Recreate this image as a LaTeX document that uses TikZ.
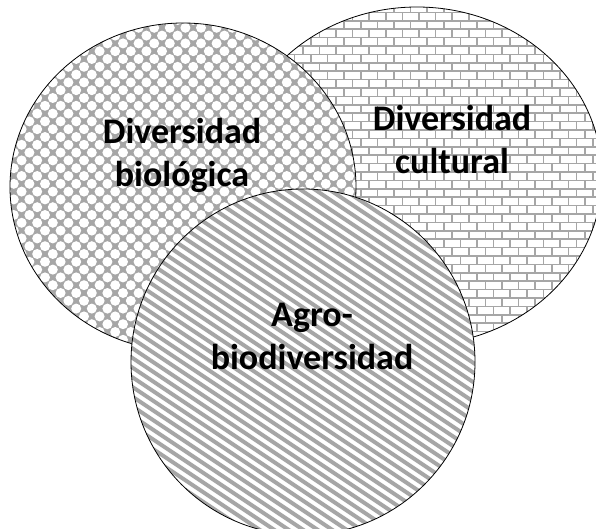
\documentclass[tikz,border=0pt]{standalone}
\usepackage{fontspec}
\setmainfont{Carlito}
\usetikzlibrary{shapes.geometric}
\definecolor{patgray}{HTML}{A6A6A6}

\tikzset{
  venn/.style={ellipse, draw=black, line width=0.8pt, inner sep=0pt, outer sep=0pt},
  brickline/.style={draw=patgray, line width=1.6pt},
  stripe/.style={draw=patgray, line width=4pt},
  lbl/.style={font=\fontsize{36}{43}\selectfont\bfseries, align=center, inner sep=0pt, text=black}
}

\begin{document}
\begin{tikzpicture}[x=1pt,y=1pt]
\useasboundingbox (0,0) rectangle (596,-529);

% ---- Diversidad cultural: brick pattern
\begin{scope}
  \clip (417,-176) ellipse [x radius=185, y radius=169];
  \fill[white] (417,-176) ellipse [x radius=185, y radius=169];
  \foreach \r [evaluate=\r as \yy using {-4-8.4*\r}, evaluate=\r as \off using {mod(\r,2)*8.3}] in {0,...,41} {
    \draw[brickline] (225,\yy) -- (610,\yy);
    \foreach \c in {0,...,23} {
      \draw[brickline] ({228+16.6*\c+\off},\yy) -- ++(0,-8.4);
    }
  }
\end{scope}
\node[venn, minimum width=370pt, minimum height=338pt] (cult) at (417,-176) {};

% ---- Diversidad biologica: dot pattern
\begin{scope}
  \clip (183,-187) ellipse [x radius=173, y radius=164];
  \fill[patgray] (183,-187) ellipse [x radius=173, y radius=164];
  \fill[white] \foreach \i in {0,...,23} { \foreach \j in {0,...,22} {
      ({6+15.6*\i},{-20-15.6*\j}) circle [radius=5.0]
      ({13.8+15.6*\i},{-27.8-15.6*\j}) circle [radius=5.0] } };
\end{scope}
\node[venn, minimum width=346pt, minimum height=328pt] (bio) at (183,-187) {};

% ---- Agro-biodiversidad: diagonal stripes
\begin{scope}
  \clip (303,-362) ellipse [x radius=172, y radius=173];
  \fill[white] (303,-362) ellipse [x radius=172, y radius=173];
  \foreach \a in {-410,-395.5,...,480} {
    \draw[stripe] (\a,-180) -- ++(555,-370);
  }
\end{scope}
\node[venn, minimum width=344pt, minimum height=346pt] (agro) at (303,-362) {};

% ---- labels
\node[lbl] (lbio) at (182,-155) {Diversidad\\biológica};
\node[lbl] (lcult) at (452,-140) {Diversidad\\cultural};
\node[lbl] (lagro) at (312,-336) {Agro-\\biodiversidad};
\end{tikzpicture}
\end{document}
